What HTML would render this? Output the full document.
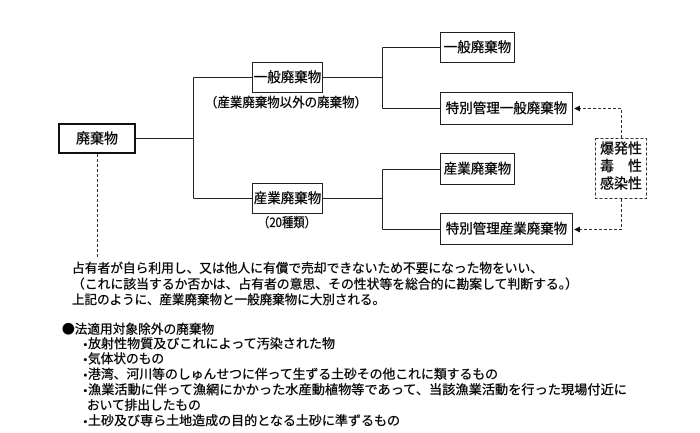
<!DOCTYPE html>
<html><head><meta charset="utf-8"><style>
html,body{margin:0;padding:0;background:#fff;}
svg{display:block;}
text{font-family:"Liberation Sans","Noto Sans CJK JP",sans-serif;fill:#000;stroke:#000;stroke-width:0.3px;}
.cjk{font-family:"Noto Sans CJK JP",sans-serif;}
</style></head><body>
<svg width="700" height="433" viewBox="0 0 700 433" xmlns="http://www.w3.org/2000/svg">
<rect width="700" height="433" fill="#fff"/>
<g stroke="#222" stroke-width="1" fill="none">
<line x1="135" y1="138.5" x2="193.5" y2="138.5"/>
<line x1="193.5" y1="77.5" x2="193.5" y2="198.5"/>
<line x1="193.5" y1="77.5" x2="252" y2="77.5"/>
<line x1="193.5" y1="198.5" x2="252" y2="198.5"/>
<line x1="323" y1="77.5" x2="382.5" y2="77.5"/>
<line x1="323" y1="198.5" x2="382.5" y2="198.5"/>
<line x1="382.5" y1="47.5" x2="382.5" y2="108.5"/>
<line x1="382.5" y1="47.5" x2="440" y2="47.5"/>
<line x1="382.5" y1="108.5" x2="440" y2="108.5"/>
<line x1="382.5" y1="169.5" x2="382.5" y2="229.5"/>
<line x1="382.5" y1="169.5" x2="440" y2="169.5"/>
<line x1="382.5" y1="229.5" x2="440" y2="229.5"/>
</g>
<rect x="59" y="124" width="76" height="29" fill="#fff" stroke="#111" stroke-width="2"/>
<g fill="#fff" stroke="#222" stroke-width="1">
<rect x="252.5" y="62.5" width="70" height="30"/>
<rect x="252.5" y="183.5" width="70" height="30"/>
<rect x="440.5" y="32.5" width="74" height="30"/>
<rect x="440.5" y="92.5" width="132" height="32"/>
<rect x="440.5" y="153.5" width="74" height="31"/>
<rect x="440.5" y="213.5" width="132" height="31"/>
</g>
<g stroke="#333" stroke-width="1" fill="none" stroke-dasharray="3,2">
<line x1="97.5" y1="154" x2="97.5" y2="257"/>
<rect x="595.5" y="138.5" width="51" height="60"/>
<polyline points="621.5,138 621.5,108.5 579,108.5"/>
<polyline points="621.5,199 621.5,229.5 579,229.5"/>
</g>
<polygon points="574,108.5 580,105.5 580,111.5" fill="#111"/>
<polygon points="574,229.5 580,226.5 580,232.5" fill="#111"/>
<g font-size="14" text-anchor="middle" dominant-baseline="central">
<text x="97" y="138.5">廃棄物</text>
<text x="287.5" y="77.5" font-size="13.5">一般廃棄物</text>
<text x="287.5" y="198.5" font-size="13.5">産業廃棄物</text>
<text x="477.5" y="47.5" font-size="13.5">一般廃棄物</text>
<text x="506.5" y="108.5" font-size="13.5">特別管理一般廃棄物</text>
<text x="477.5" y="169" font-size="13.5">産業廃棄物</text>
<text x="506.5" y="229" font-size="13.5">特別管理産業廃棄物</text>
<text x="286" y="101.5" font-size="13" textLength="162" lengthAdjust="spacingAndGlyphs" class="cjk">（産業廃棄物以外の廃棄物）</text>
<text x="287" y="221.5" font-size="13" textLength="58" lengthAdjust="spacingAndGlyphs" class="cjk">（20種類）</text>
<text x="621" y="148.5">爆発性</text>
<text x="621" y="166">毒　性</text>
<text x="621" y="183.5">感染性</text>
</g>
<g font-size="12.7" dominant-baseline="central">
<text x="72" y="268.5" textLength="471" lengthAdjust="spacingAndGlyphs">占有者が自ら利用し、又は他人に有償で売却できないため不要になった物をいい、</text>
<text x="72" y="284.5" textLength="506" lengthAdjust="spacingAndGlyphs">（これに該当するか否かは、占有者の意思、その性状等を総合的に勘案して判断する。）</text>
<text x="72" y="300" textLength="313" lengthAdjust="spacingAndGlyphs">上記のように、産業廃棄物と一般廃棄物に大別される。</text>
<text x="62" y="328" class="cjk">●法適用対象除外の廃棄物</text>
<text x="79" y="344" class="cjk">・</text>
<text x="88" y="344" textLength="247" lengthAdjust="spacingAndGlyphs">放射性物質及びこれによって汚染された物</text>
<text x="79" y="359" class="cjk">・</text>
<text x="88" y="359">気体状のもの</text>
<text x="79" y="374.5" class="cjk">・</text>
<text x="88" y="374.5" textLength="410" lengthAdjust="spacingAndGlyphs">港湾、河川等のしゅんせつに伴って生ずる土砂その他これに類するもの</text>
<text x="79" y="390" class="cjk">・</text>
<text x="88" y="390" textLength="539" lengthAdjust="spacingAndGlyphs">漁業活動に伴って漁網にかかった水産動植物等であって、当該漁業活動を行った現場付近に</text>
<text x="87" y="405.5">おいて排出したもの</text>
<text x="79" y="421" class="cjk">・</text>
<text x="88" y="421" textLength="312" lengthAdjust="spacingAndGlyphs">土砂及び専ら土地造成の目的となる土砂に準ずるもの</text>
</g>
</svg>
</body></html>
